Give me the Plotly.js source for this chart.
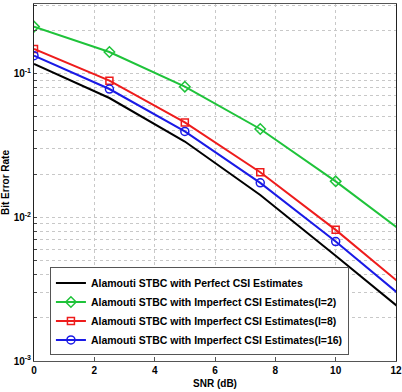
<!DOCTYPE html>
<html>
<head>
<meta charset="utf-8">
<script src="https://cdn.plot.ly/plotly-3.0.1.min.js"></script>
<style>html,body{margin:0;padding:0;background:#fff;}#chart{width:402px;height:392px;}</style>
</head>
<body>
<div id="chart"></div>
<script>
const snr = [0, 2.5, 5, 7.5, 10, 12.5];
const berPerfect = [0.117, 0.0677, 0.0337, 0.0143, 0.0054, 0.00201];
const berL2 = [0.2126, 0.1416, 0.0812, 0.0412, 0.0178, 0.00716];
const berL8 = [0.1485, 0.0894, 0.0458, 0.0206, 0.00818, 0.0030];
const berL16 = [0.1335, 0.0782, 0.0396, 0.01738, 0.00678, 0.00249];
const seriesNames = [
  'Alamouti STBC with Perfect CSI Estimates',
  'Alamouti STBC with Imperfect CSI Estimates(l=2)',
  'Alamouti STBC with Imperfect CSI Estimates(l=8)',
  'Alamouti STBC with Imperfect CSI Estimates(l=16)'
];
const xTicks = [0, 2, 4, 6, 8, 10, 12];
const yTickVals = [0.001,0.002,0.003,0.004,0.005,0.006,0.007,0.008,0.009,
                   0.01,0.02,0.03,0.04,0.05,0.06,0.07,0.08,0.09,0.1,0.2,0.3];
const yTickText = yTickVals.map(v => v === 0.001 ? '10<sup>-3</sup>' : v === 0.01 ? '10<sup>-2</sup>' : v === 0.1 ? '10<sup>-1</sup>' : '');

const traces = [
  {x: snr, y: berPerfect, name: seriesNames[0], mode: 'lines', line: {color: '#000000', width: 2}},
  {x: snr, y: berL2, name: seriesNames[1], mode: 'lines+markers', line: {color: '#1fc33a', width: 2},
   marker: {symbol: 'diamond-open', size: 8, color: '#1fc33a', line: {width: 1.5}}},
  {x: snr, y: berL8, name: seriesNames[2], mode: 'lines+markers', line: {color: '#ee1c1c', width: 2},
   marker: {symbol: 'square-open', size: 7, color: '#ee1c1c', line: {width: 1.5}}},
  {x: snr, y: berL16, name: seriesNames[3], mode: 'lines+markers', line: {color: '#1a1ae6', width: 2},
   marker: {symbol: 'circle-open', size: 8, color: '#1a1ae6', line: {width: 1.5}}}
];

const fontFam = 'Liberation Sans, Arial, sans-serif';
const layout = {
  width: 402, height: 392,
  margin: {l: 34, r: 6, t: 4, b: 31, pad: 0},
  paper_bgcolor: '#ffffff', plot_bgcolor: '#ffffff',
  font: {family: fontFam, size: 10, color: '#000', weight: 'bold'},
  showlegend: true,
  xaxis: {
    range: [0, 12], tickvals: xTicks, ticktext: xTicks.map(String),
    showgrid: true, gridcolor: '#c8c8c8', griddash: 'dot', gridwidth: 1,
    zeroline: false, showline: true, linecolor: '#555', linewidth: 1, mirror: true,
    ticks: 'inside', ticklen: 4, tickcolor: '#555',
    tickfont: {family: fontFam, size: 10, weight: 'bold'},
    title: {text: 'SNR (dB)', font: {family: fontFam, size: 10, weight: 'bold'}, standoff: 4}
  },
  yaxis: {
    type: 'log', range: [-3, -0.515], tickvals: yTickVals, ticktext: yTickText,
    showgrid: true, gridcolor: '#c8c8c8', griddash: 'dot', gridwidth: 1,
    zeroline: false, showline: true, linecolor: '#222', linewidth: 1, mirror: true,
    ticks: 'inside', ticklen: 3, tickcolor: '#444',
    tickfont: {family: fontFam, size: 10, weight: 'bold'},
    title: {text: 'Bit Error Rate', font: {family: fontFam, size: 10, weight: 'bold'}, standoff: 2}
  },
  legend: {
    x: 0.044, y: 0.262, xanchor: 'left', yanchor: 'top',
    bgcolor: '#ffffff', bordercolor: '#555', borderwidth: 1,
    font: {family: fontFam, size: 10.5, weight: 'bold'},
    tracegroupgap: 0, itemwidth: 30
  }
};

Plotly.newPlot('chart', traces, layout, {displayModeBar: false, staticPlot: true});
</script>
</body>
</html>
